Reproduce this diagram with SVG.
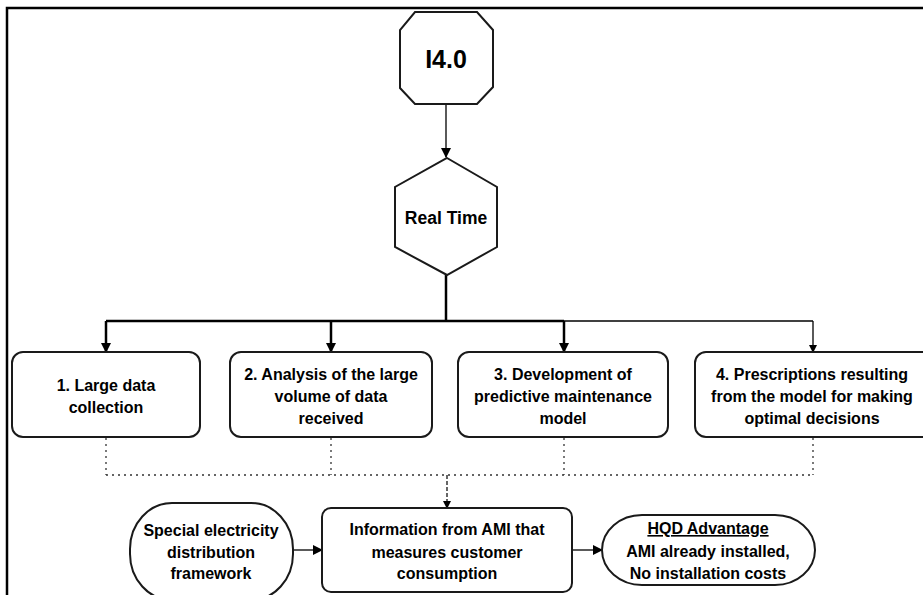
<svg xmlns="http://www.w3.org/2000/svg" width="923" height="595" viewBox="0 0 923 595">
<defs>
<style>
.t{font-family:"Liberation Sans",Arial,sans-serif;font-weight:bold;font-size:16px;fill:#000;text-anchor:middle}
.n{fill:#fff;stroke:#1a1a1a;stroke-width:2}
.c{fill:none;stroke:#000;stroke-width:2.5}
.c2{fill:none;stroke:#000;stroke-width:1.3}
.d{fill:none;stroke:#333;stroke-width:1.3;stroke-dasharray:2 4}
</style>
<marker id="ah" markerWidth="10" markerHeight="10" refX="9" refY="5" orient="auto" markerUnits="userSpaceOnUse">
<path d="M0,0 L10,5 L0,10 Z" fill="#000"/>
</marker>
<marker id="ahs" markerWidth="8" markerHeight="8" refX="7" refY="4" orient="auto" markerUnits="userSpaceOnUse">
<path d="M0,0 L8,4 L0,8 Z" fill="#000"/>
</marker>
</defs>
<rect width="923" height="595" fill="#fff"/>
<g id="frame">
<path d="M7,595 L7,8 L923,8" fill="none" stroke="#000" stroke-width="2.5"/>
</g>
<g id="connectors">
<line class="c2" x1="446" y1="104" x2="446" y2="157" marker-end="url(#ah)"/>
<line class="c" x1="446" y1="275" x2="446" y2="321"/>
<line class="c" x1="106" y1="321" x2="564" y2="321"/>
<line class="c2" x1="564" y1="321" x2="813" y2="321"/>
<line class="c" x1="106" y1="321" x2="106" y2="352" marker-end="url(#ah)"/>
<line class="c" x1="331" y1="321" x2="331" y2="352" marker-end="url(#ah)"/>
<line class="c" x1="564" y1="321" x2="564" y2="352" marker-end="url(#ah)"/>
<line class="c2" x1="813" y1="321" x2="813" y2="352" marker-end="url(#ahs)"/>
<path class="d" d="M106,438 L106,475 M331,438 L331,475 M564,438 L564,475 M813,438 L813,475 M106,475 L813,475"/>
<line x1="447" y1="475" x2="447" y2="508" stroke="#000" stroke-width="1.2" stroke-dasharray="4 2" marker-end="url(#ahs)"/>
<line class="c2" x1="293" y1="550" x2="322" y2="550" stroke-width="2" marker-end="url(#ah)"/>
<line class="c2" x1="572" y1="550" x2="602" y2="550" stroke-width="2" marker-end="url(#ah)"/>
</g>
<g id="i40">
<polygon class="n" points="415,12 477,12 493,30 493,87 477,104 415,104 400,88 400,30"/>
<text class="t" x="446" y="68" style="font-size:25px">I4.0</text>
</g>
<g id="realtime">
<polygon class="n" points="447,158 497,187 497,247 447,275 395,247 395,187"/>
<text class="t" x="446" y="224" style="font-size:17.5px">Real Time</text>
</g>
<g id="box1">
<rect class="n" x="12" y="352" width="188" height="85" rx="11"/>
<text class="t" x="106" y="391">1. Large data</text>
<text class="t" x="106" y="413">collection</text>
</g>
<g id="box2">
<rect class="n" x="230" y="352" width="202" height="85" rx="11"/>
<text class="t" x="331" y="380">2. Analysis of the large</text>
<text class="t" x="331" y="402">volume of data</text>
<text class="t" x="331" y="424">received</text>
</g>
<g id="box3">
<rect class="n" x="458" y="352" width="210" height="85" rx="11"/>
<text class="t" x="563" y="380">3. Development of</text>
<text class="t" x="563" y="402">predictive maintenance</text>
<text class="t" x="563" y="424">model</text>
</g>
<g id="box4">
<rect class="n" x="695" y="352" width="240" height="85" rx="11"/>
<text class="t" x="812" y="380">4. Prescriptions resulting</text>
<text class="t" x="812" y="402">from the model for making</text>
<text class="t" x="812" y="424">optimal decisions</text>
</g>
<g id="special">
<rect class="n" x="130" y="503" width="163" height="97" rx="42" ry="46"/>
<text class="t" x="211" y="536">Special electricity</text>
<text class="t" x="211" y="558">distribution</text>
<text class="t" x="211" y="579">framework</text>
</g>
<g id="info">
<rect class="n" x="322" y="508" width="250" height="84" rx="9"/>
<text class="t" x="447" y="535">Information from AMI that</text>
<text class="t" x="447" y="558">measures customer</text>
<text class="t" x="447" y="579">consumption</text>
</g>
<g id="hqd">
<rect class="n" x="602" y="515" width="213" height="70" rx="40" ry="35"/>
<text class="t" x="708" y="534" text-decoration="underline">HQD Advantage</text>
<text class="t" x="708" y="557">AMI already installed,</text>
<text class="t" x="708" y="579">No installation costs</text>
</g>
</svg>
